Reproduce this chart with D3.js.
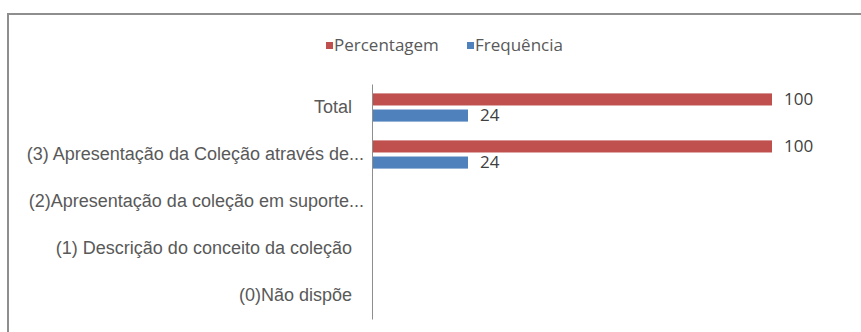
<!DOCTYPE html>
<html>
<head>
<meta charset="utf-8">
<script src="https://cdn.jsdelivr.net/npm/d3@7"></script>
<style>
  html, body { margin: 0; padding: 0; background: #fff; }
  svg { display: block; font-family: "Open Sans", sans-serif; }
  .cat text { fill: #595959; font-size: 18px; }
  .value { fill: #404040; font-size: 17px; }
  .legend text { fill: #595959; font-size: 17px; }
</style>
</head>
<body>
<div id="chart"></div>
<script>
const categories = [
  "Total",
  "(3) Apresentação da Coleção através de...",
  "(2)Apresentação da coleção em suporte...",
  "(1) Descrição do conceito da coleção",
  "(0)Não dispõe"
];
const seriesNames = ["Percentagem", "Frequência"];
const percentagem = [100, 100, null, null, null];
const frequencia = [24, 24, null, null, null];
const seriesColors = ["#c0504d", "#4f81bd"];

const width = 861;
const height = 332;

const svg = d3.select("#chart")
  .append("svg")
  .attr("width", width)
  .attr("height", height);

// outer frame (clipped on right and bottom like the source image)
svg.append("rect")
  .attr("x", 8)
  .attr("y", 14)
  .attr("width", 900)
  .attr("height", 400)
  .attr("fill", "#fff")
  .attr("stroke", "#8e8e8e")
  .attr("stroke-width", 2);

const x = d3.scaleLinear()
  .domain([0, 100])
  .range([372, 772]);

const y = d3.scaleBand()
  .domain(categories)
  .range([84, 319])
  .paddingInner(0.4)
  .paddingOuter(0.2);

const ySeries = d3.scaleBand()
  .domain(seriesNames)
  .range([0, y.bandwidth()])
  .paddingInner(0.25);

const rows = categories.map((c, i) => ({
  category: c,
  values: [
    { series: seriesNames[0], value: percentagem[i] },
    { series: seriesNames[1], value: frequencia[i] }
  ]
}));

const groups = svg.append("g")
  .selectAll("g")
  .data(rows)
  .join("g")
  .attr("transform", (d) => `translate(0,${y(d.category)})`);

groups.selectAll("rect")
  .data((d) => d.values.filter((v) => v.value != null))
  .join("rect")
  .attr("x", x(0))
  .attr("y", (d) => ySeries(d.series))
  .attr("width", (d) => x(d.value) - x(0))
  .attr("height", ySeries.bandwidth())
  .attr("fill", (d) => seriesColors[seriesNames.indexOf(d.series)]);

groups.selectAll("text.value")
  .data((d) => d.values.filter((v) => v.value != null))
  .join("text")
  .attr("class", "value")
  .attr("x", (d) => x(d.value) + 12)
  .attr("y", (d) => ySeries(d.series) + ySeries.bandwidth() / 2)
  .attr("dy", "0.35em")
  .text((d) => d.value);

// category axis
const axis = svg.append("g")
  .attr("class", "cat")
  .attr("transform", `translate(${x(0)},0)`)
  .call(d3.axisLeft(y).tickSize(0).tickPadding(20));

axis.select(".domain").attr("stroke", "#8e8e8e").attr("stroke-width", 1);
axis.selectAll("text")
  .attr("font-size", null)
  .attr("font-family", null)
  .attr("dx", (d) => (d.endsWith("...") ? 12 : 0));

// legend
const legend = svg.append("g")
  .attr("class", "legend")
  .attr("transform", "translate(326,45)");

const legendX = [0, 141];
const item = legend.selectAll("g")
  .data(seriesNames)
  .join("g")
  .attr("transform", (d, i) => `translate(${legendX[i]},0)`);

item.append("rect")
  .attr("x", 0)
  .attr("y", -3)
  .attr("width", 7)
  .attr("height", 7)
  .attr("fill", (d, i) => seriesColors[i]);

item.append("text")
  .attr("x", 8)
  .attr("y", 0)
  .attr("dy", "0.35em")
  .text((d) => d);
</script>
</body>
</html>
